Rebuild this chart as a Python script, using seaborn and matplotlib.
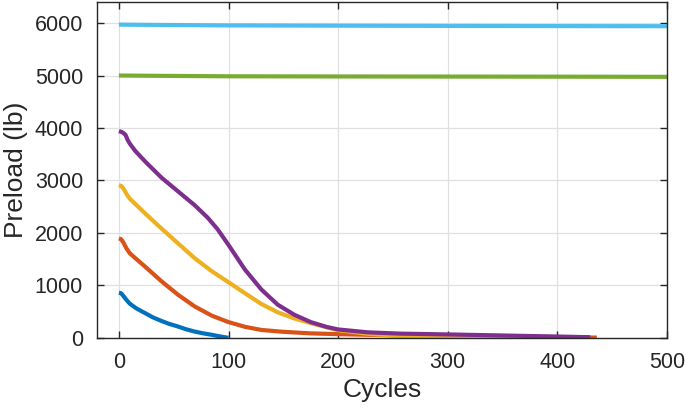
import pandas as pd
import seaborn as sns
import matplotlib.pyplot as plt

# ----------------------------------------
# data
# ----------------------------------------
blue_c = [0, 2, 4, 7, 10, 16, 24, 31, 39, 46, 54, 61, 69, 77, 85, 92, 100]
blue_p = [860, 850, 800, 720, 650, 560, 470, 390, 320, 265, 215, 165, 120, 85, 57, 28, 0]

orange_c = [0, 2, 4, 7, 10, 16, 24, 39, 54, 69, 85, 100, 115, 130, 150, 175, 200, 257, 300, 350, 400, 436]
orange_p = [1895, 1880, 1820, 1700, 1610, 1500, 1355, 1075, 820, 600, 420, 300, 210, 150, 115, 85, 70, 45, 32, 20, 10, 5]

yellow_c = [0, 2, 4, 7, 10, 16, 24, 39, 54, 69, 85, 100, 115, 130, 145, 160, 175, 200, 230, 257, 300, 350, 400]
yellow_p = [2910, 2895, 2850, 2740, 2650, 2530, 2370, 2080, 1800, 1520, 1265, 1060, 850, 645, 485, 370, 280, 145, 70, 40, 20, 10, 5]

purple_c = [0, 3, 6, 8, 10, 15, 24, 39, 54, 69, 81, 90, 100, 115, 130, 145, 160, 175, 190, 200, 227, 257, 300, 350, 400, 430]
purple_p = [3940, 3920, 3870, 3770, 3700, 3560, 3360, 3050, 2790, 2530, 2290, 2070, 1770, 1300, 920, 630, 440, 300, 205, 160, 105, 80, 65, 45, 25, 12]

green_c = [0, 30, 100, 200, 300, 400, 500]
green_p = [5000, 4995, 4985, 4982, 4980, 4978, 4975]

cyan_c = [0, 30, 100, 200, 300, 400, 500]
cyan_p = [5970, 5965, 5955, 5950, 5945, 5942, 5940]

series = [
    (blue_c, blue_p, '#0072BD'),
    (orange_c, orange_p, '#D95319'),
    (yellow_c, yellow_p, '#EDB120'),
    (purple_c, purple_p, '#7E2F8E'),
    (green_c, green_p, '#77AC30'),
    (cyan_c, cyan_p, '#4DBEEE'),
]

x_ticks = [0, 100, 200, 300, 400, 500]
y_ticks = [0, 1000, 2000, 3000, 4000, 5000, 6000]

# ----------------------------------------
# plot
# ----------------------------------------
sns.set_style("ticks")
plt.rcParams['font.family'] = ['Liberation Sans', 'DejaVu Sans']

fig = plt.figure(figsize=(6.85, 4.12), dpi=100)
ax = fig.add_axes([0.1416, 0.180, 0.8321, 0.815])

for c, p, col in series:
    df = pd.DataFrame({'Cycles': c, 'Preload': p})
    sns.lineplot(data=df, x='Cycles', y='Preload', color=col, linewidth=3.0,
                 solid_joinstyle='round', solid_capstyle='butt', ax=ax)

ax.set_xlim(-20, 500)
ax.set_ylim(0, 6400)
ax.set_xticks(x_ticks)
ax.set_yticks(y_ticks)
ax.grid(True, color='#e0e0e0', linewidth=0.9)
ax.set_axisbelow(True)
ax.tick_params(direction='in', top=True, right=True, labelsize=15.5,
               colors='#262626', length=5, width=1, pad=10)
for s in ax.spines.values():
    s.set_color('#262626')
    s.set_linewidth(1)
ax.set_xlabel('Cycles', fontsize=19, color='#262626', labelpad=4)
ax.set_ylabel('Preload (lb)', fontsize=19, color='#262626', labelpad=5)

plt.savefig("out.png", dpi=100)
